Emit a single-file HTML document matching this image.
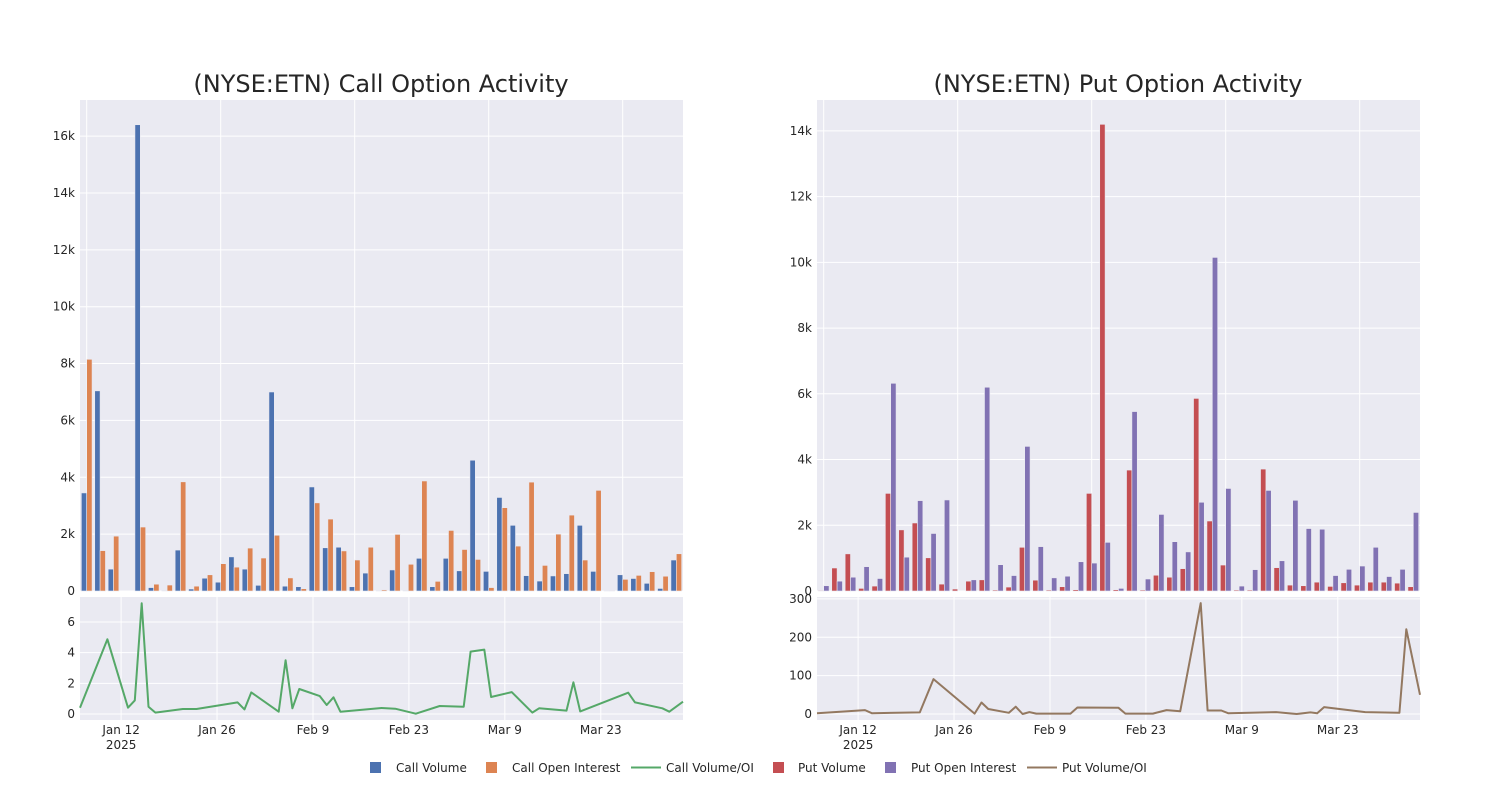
<!DOCTYPE html>
<html><head><meta charset="utf-8"><style>
html,body{margin:0;padding:0;background:#fff;}
svg{display:block;font-family:"DejaVu Sans","Liberation Sans",sans-serif;}
</style></head><body>
<svg id="chart" width="1500" height="800" viewBox="0 0 1500 800" xmlns="http://www.w3.org/2000/svg">
<text x="381" y="92" font-size="24" text-anchor="middle" fill="#262626">(NYSE:ETN) Call Option Activity</text>
<text x="1118" y="92" font-size="24" text-anchor="middle" fill="#262626">(NYSE:ETN) Put Option Activity</text>
<g id="left"></g>
<g id="right"></g>
<g font-size="12" fill="#262626">
  <g><rect x="370" y="762" width="11" height="11" fill="#4c72b0"/><text x="396" y="772">Call Volume</text></g>
  <g><rect x="486" y="762" width="11" height="11" fill="#dd8452"/><text x="512" y="772">Call Open Interest</text></g>
  <g><line x1="631" y1="767.5" x2="661" y2="767.5" stroke="#55a868" stroke-width="2"/><text x="666" y="772">Call Volume/OI</text></g>
  <g><rect x="773" y="762" width="11" height="11" fill="#c44e52"/><text x="798" y="772">Put Volume</text></g>
  <g><rect x="885" y="762" width="11" height="11" fill="#8172b3"/><text x="911" y="772">Put Open Interest</text></g>
  <g><line x1="1027" y1="767.5" x2="1057" y2="767.5" stroke="#937860" stroke-width="2"/><text x="1062" y="772">Put Volume/OI</text></g>
</g>
</svg>
<script>
// ---- data ----
const callVolume = [3450,7040,770,0,16400,120,20,1440,70,450,310,1200,770,200,7000,170,150,3660,1520,1540,150,630,10,740,20,1150,150,1150,710,4600,690,3290,2310,540,350,530,610,2310,690,10,570,440,270,90,1090];
const callOI = [8150,1420,1930,0,2250,240,210,3840,170,570,960,840,1510,1160,1960,460,80,3100,2530,1410,1090,1540,40,1990,940,3870,340,2130,1460,1110,120,2930,1580,3830,900,2000,2670,1090,3540,20,410,550,680,520,1310];
const putVolume = [20,700,1130,80,150,2970,1860,2070,1010,210,60,300,340,30,120,1330,330,30,130,40,2970,14200,40,3680,30,480,420,680,5860,2130,790,30,30,3710,710,180,160,270,140,250,180,270,270,240,130];
const putOI = [160,300,420,740,380,6320,1030,2750,1750,2770,0,340,6200,800,470,4400,1350,400,450,890,850,1480,80,5460,365,2330,1500,1190,2700,10150,3120,150,650,3060,920,2760,1900,1880,470,660,760,1330,440,660,2390];
// day offsets from Jan 6 2025
const callRatioDays = [0,4,7,8,9,10,11,15,17,23,24,25,29,30,31,32,35,36,37,38,44,46,49,52.5,56,57,59,60,63,66,67,71,72,73,80,81,85,86,88];
const callRatio = [0.41,4.87,0.41,0.89,7.22,0.48,0.09,0.33,0.33,0.76,0.3,1.41,0.15,3.5,0.37,1.63,1.17,0.59,1.09,0.15,0.39,0.35,0.02,0.52,0.48,4.07,4.2,1.11,1.43,0.09,0.37,0.22,2.07,0.17,1.39,0.76,0.37,0.15,0.8];
const putRatioDays = [0,7,8,15,17,23,24,25,28,29,30,31,32,37,38,44,45,49,51,53,56,57,59,60,67,70,72,73,74,80,85,86,88];
const putRatio = [2,10,2,4,91,1,30,13,3,19,0,5,1,1,17,16,1,1,10,7,289,9,9,2,5,0,4,2,18,5,3,221,50];
const dateTicks = [6,20,34,48,62,76];
const dateLabels = ["Jan 12","Jan 26","Feb 9","Feb 23","Mar 9","Mar 23"];
const callBarTicks = [0,2000,4000,6000,8000,10000,12000,14000,16000];
const putBarTicks = [0,2000,4000,6000,8000,10000,12000,14000];
const callRatioTicks = [0,2,4,6];
const putRatioTicks = [0,100,200,300];

const NS="http://www.w3.org/2000/svg";
function mk(parent,tag,attrs){const e=document.createElementNS(NS,tag);for(const k in attrs)e.setAttribute(k,attrs[k]);parent.appendChild(e);return e;}
const fmtK=v=>v===0?"0":(v/1000)+"k";

function panel(gid,x0,x1,vol,oi,c1,c2,bTicks,bMax,rDays,rVals,rTicks,rMin,rMax,lc,prefix){
  const g=document.getElementById(gid);
  const topY0=100,topY1=591,botY0=597,botY1=720;
  const n=vol.length, step=(x1-x0)/n, bw=step*0.4;
  const xb=i=>x0+step*(i+0.5);
  const yb=v=>topY1-(v/bMax)*(topY1-topY0);
  const xd=d=>x0+d*(x1-x0)/88;
  const yr=v=>botY1-(v-rMin)/(rMax-rMin)*(botY1-botY0);
  const bg1=mk(g,'rect',{x:x0,y:topY0,width:x1-x0,height:topY1-topY0,fill:'#eaeaf2'});
  
  
  const bg2=mk(g,'rect',{x:x0,y:botY0,width:x1-x0,height:botY1-botY0,fill:'#eaeaf2'});
  
  
  for(let i=0;i<n;i+=10){mk(g,'line',{x1:xb(i),x2:xb(i),y1:topY0,y2:topY1,stroke:'#fff','stroke-width':1});}
  bTicks.forEach(t=>{
    const y=yb(t);
    mk(g,'line',{x1:x0,x2:x1,y1:y,y2:y,stroke:'#fff','stroke-width':1});
    const tx=mk(g,'text',{x:x0-5,y:y+4,'font-size':12,'text-anchor':'end',fill:'#262626'});tx.textContent=fmtK(t);
    
    
  });
  for(let i=0;i<n;i++){
    const h1=topY1-yb(vol[i]);
    const r1=mk(g,'rect',{x:xb(i)-bw,y:yb(vol[i]),width:bw,height:Math.max(0,h1),fill:c1,stroke:'#eaeaf2','stroke-width':0.6});
    
    
    const h2=topY1-yb(oi[i]);
    const r2=mk(g,'rect',{x:xb(i),y:yb(oi[i]),width:bw,height:Math.max(0,h2),fill:c2,stroke:'#eaeaf2','stroke-width':0.6});
    
    
  }
  dateTicks.forEach((d,k)=>{
    const x=xd(d);
    mk(g,'line',{x1:x,x2:x,y1:botY0,y2:botY1,stroke:'#fff','stroke-width':1});
    const tx=mk(g,'text',{x:x,y:734,'font-size':12,'text-anchor':'middle',fill:'#262626'});tx.textContent=dateLabels[k];
    
    
    if(k===0){const t2=mk(g,'text',{x:x,y:749,'font-size':12,'text-anchor':'middle',fill:'#262626'});t2.textContent="2025";
      
      }
  });
  rTicks.forEach(t=>{
    const y=yr(t);
    mk(g,'line',{x1:x0,x2:x1,y1:y,y2:y,stroke:'#fff','stroke-width':1});
    const tx=mk(g,'text',{x:x0-5,y:y+4,'font-size':12,'text-anchor':'end',fill:'#262626'});tx.textContent=t;
    
    
  });
  const pts=rDays.map((d,i)=>xd(d).toFixed(1)+","+yr(rVals[i]).toFixed(1)).join(" ");
  const pl=mk(g,'polyline',{points:pts,fill:'none',stroke:lc,'stroke-width':2,'stroke-linejoin':'round'});
  
  
}
panel('left',80,683,callVolume,callOI,'#4c72b0','#dd8452',callBarTicks,17270,callRatioDays,callRatio,callRatioTicks,-0.39,7.63,'#55a868','call');
panel('right',817,1420,putVolume,putOI,'#c44e52','#8172b3',putBarTicks,14940,putRatioDays,putRatio,putRatioTicks,-15.7,305,'#937860','put');
</script>
</body></html>
